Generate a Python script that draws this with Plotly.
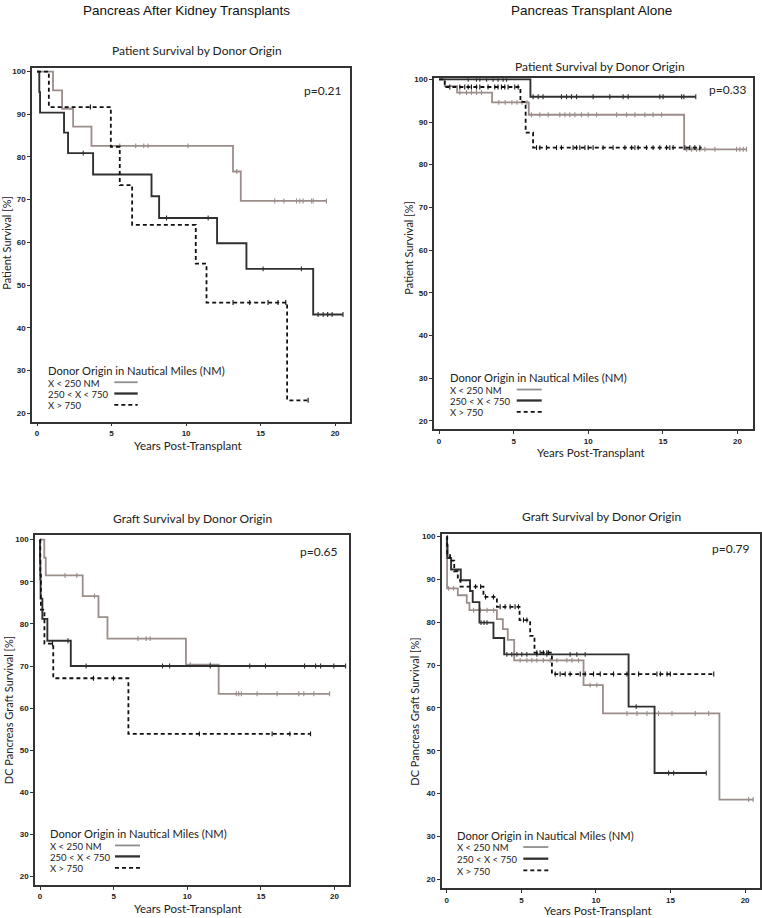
import plotly.graph_objects as go

W, H = 762, 918

# ---------------- data (years, survival %) ----------------
series_names = ["X < 250 NM", "250 < X < 750", "X > 750"]
legend_title = "Donor Origin in Nautical Miles (NM)"
x_ticks = [0, 5, 10, 15, 20]
y_ticks = [20, 30, 40, 50, 60, 70, 80, 90, 100]

# Panel 1: Pancreas After Kidney - patient survival
p1_gray_t = [1.07, 1.68, 2.42, 3.65, 13.15, 13.67]
p1_gray_s = [95.6, 91.3, 87.1, 82.6, 76.6, 69.7]
p1_gray_end = 19.42
p1_gray_c = [5.55, 6.62, 7.16, 7.45, 10.13, 13.4, 15.95, 16.56, 17.41, 17.63, 17.85, 18.42, 18.53, 19.42]
p1_black_t = [0.15, 0.2, 1.81, 2.08, 3.76, 7.68, 8.19, 12.08, 14.05, 18.53]
p1_black_s = [95.2, 90.4, 85.7, 80.9, 75.9, 70.8, 65.7, 59.8, 53.8, 43.1]
p1_black_end = 20.53
p1_black_c = [3.1, 8.69, 11.48, 15.17, 17.74, 18.86, 19.2, 19.5, 19.8, 20.53]
p1_dash_t = [0.79, 4.95, 5.55, 6.38, 10.65, 11.37, 16.78]
p1_dash_s = [91.7, 82.4, 73.4, 64.1, 55.0, 45.9, 23.0]
p1_dash_end = 18.19
p1_dash_c = [3.58, 13.15, 14.27, 15.5, 16.17, 16.69, 18.19]

# Panel 2: Pancreas Transplant Alone - patient survival
p2_gray_t = [0.38, 1.21, 3.55, 6.01, 16.42]
p2_gray_s = [98.4, 96.9, 94.6, 91.7, 83.6]
p2_gray_end = 20.6
p2_gray_c = [1.39, 1.84, 2.17, 2.5, 2.84, 4.0, 4.43, 4.88, 5.22, 5.55, 5.89,
             6.19, 6.75, 7.31, 8.09, 8.43, 8.76, 9.1, 9.54, 9.99, 10.55, 11.89, 12.56, 13.12, 13.79, 14.34, 14.91,
             16.58, 16.92, 17.25, 17.47, 17.81, 18.48, 19.93, 20.15, 20.38, 20.6]
p2_black_t = [6.12]
p2_black_s = [95.9]
p2_black_end = 17.2
p2_black_c = [1.95, 2.5, 2.73, 3.18, 3.62, 3.95, 4.29, 4.52,
              6.3, 6.64, 6.97, 8.2, 8.54, 8.87, 9.21, 10.32, 11.44, 12.33, 12.67, 14.79, 15.01, 16.25, 16.4, 17.2]
p2_dash_t = [0.38, 5.45, 5.8, 6.3]
p2_dash_s = [98.2, 94.7, 87.5, 84.0]
p2_dash_end = 17.59
p2_dash_c = [0.72, 1.39, 1.72, 1.95, 2.17, 2.51, 2.73, 3.28, 3.73, 3.95, 4.18, 4.4, 4.62, 5.07, 5.3,
             6.53, 6.75, 7.2, 7.87, 8.2, 8.98, 9.21, 9.43, 9.77, 9.99, 10.32, 10.99, 11.66, 12.45, 12.9,
             13.12, 13.34, 13.9, 14.34, 14.79, 15.24, 15.46, 15.68, 16.47, 16.8, 17.14, 17.47]

# Panel 3: Pancreas After Kidney - graft survival
p3_gray_t = [0.29, 0.39, 2.9, 3.97, 4.58, 9.91, 12.13]
p3_gray_s = [95.7, 91.5, 86.6, 81.6, 76.5, 70.3, 63.4]
p3_gray_end = 19.66
p3_gray_c = [1.7, 2.5, 3.7, 6.65, 7.21, 7.48, 10.2, 11.56, 13.33, 13.49, 13.67, 14.74, 16.1, 17.57, 17.91, 18.59, 19.66]
p3_black_t = [0.0, 0.02, 0.04, 0.16, 0.5, 2.09]
p3_black_s = [95.2, 90.5, 86.0, 81.2, 76.0, 70.0]
p3_black_end = 20.75
p3_black_c = [1.9, 3.13, 8.32, 8.8, 11.56, 14.24, 15.31, 17.96, 18.71, 19.05, 19.95, 20.75]
p3_dash_t = [0.02, 0.06, 0.3, 0.9, 6.0]
p3_dash_s = [91.7, 83.4, 75.3, 67.1, 53.9]
p3_dash_end = 18.37
p3_dash_c = [0.85, 3.63, 4.99, 10.82, 15.76, 16.96, 18.37]

# Panel 4: Pancreas Transplant Alone - graft survival
p4_gray_t = [0.0, 0.02, 0.74, 1.34, 1.52, 3.36, 3.76, 4.09, 4.52, 9.17, 10.47, 18.28]
p4_gray_s = [95.0, 87.9, 86.3, 84.5, 82.8, 80.7, 78.4, 75.9, 71.1, 65.3, 58.7, 38.6]
p4_gray_end = 20.54
p4_gray_c = [0.12, 0.46, 1.8, 2.25, 2.7, 3.14, 4.92, 5.37, 5.7, 6.04, 6.48, 6.93, 7.38, 8.05, 8.39, 8.83,
             9.61, 10.06, 12.08, 12.75, 13.42, 14.2, 15.1, 16.66, 17.56, 20.24, 20.54]
p4_black_t = [0.02, 0.05, 0.29, 0.94, 1.56, 1.74, 2.19, 3.13, 3.85, 12.19, 13.93]
p4_black_s = [98.0, 95.0, 92.3, 89.8, 87.3, 84.7, 79.9, 76.3, 72.5, 60.3, 44.8]
p4_black_end = 17.4
p4_black_c = [2.3, 2.5, 2.7, 4.03, 4.36, 4.7, 5.03, 5.37, 6.04, 6.71, 8.27, 8.72, 9.28, 12.7, 14.87, 15.21, 17.4]
p4_dash_t = [0.03, 0.22, 0.5, 0.74, 0.92, 2.46, 3.36, 4.88, 5.59, 5.88, 7.05]
p4_dash_s = [96.0, 94.4, 91.9, 89.8, 88.3, 85.9, 83.6, 80.5, 76.8, 72.9, 67.9]
p4_dash_end = 17.9
p4_dash_c = [1.93, 2.27, 2.6, 3.13, 3.58, 3.91, 4.25, 4.58, 4.81, 5.14, 5.37, 6.04, 6.26, 6.48, 6.71, 6.82,
             7.27, 7.6, 7.94, 8.27, 8.95, 9.28, 9.84, 10.29, 11.18, 12.08, 12.86, 14.09, 14.32, 14.77, 14.99, 17.9]

panels = [
    dict(series=[(p1_gray_t, p1_gray_s, p1_gray_end, p1_gray_c),
                 (p1_black_t, p1_black_s, p1_black_end, p1_black_c),
                 (p1_dash_t, p1_dash_s, p1_dash_end, p1_dash_c)],
         title="Patient Survival by Donor Origin", p="p=0.21", ytitle="Patient Survival [%]"),
    dict(series=[(p2_gray_t, p2_gray_s, p2_gray_end, p2_gray_c),
                 (p2_black_t, p2_black_s, p2_black_end, p2_black_c),
                 (p2_dash_t, p2_dash_s, p2_dash_end, p2_dash_c)],
         title="Patient Survival by Donor Origin", p="p=0.33", ytitle="Patient Survival [%]"),
    dict(series=[(p3_gray_t, p3_gray_s, p3_gray_end, p3_gray_c),
                 (p3_black_t, p3_black_s, p3_black_end, p3_black_c),
                 (p3_dash_t, p3_dash_s, p3_dash_end, p3_dash_c)],
         title="Graft Survival by Donor Origin", p="p=0.65", ytitle="DC Pancreas Graft Survival [%]"),
    dict(series=[(p4_gray_t, p4_gray_s, p4_gray_end, p4_gray_c),
                 (p4_black_t, p4_black_s, p4_black_end, p4_black_c),
                 (p4_dash_t, p4_dash_s, p4_dash_end, p4_dash_c)],
         title="Graft Survival by Donor Origin", p="p=0.79", ytitle="DC Pancreas Graft Survival [%]"),
]
column_titles = ["Pancreas After Kidney Transplants", "Pancreas Transplant Alone"]

# ---------------- layout geometry (pixels) ----------------
boxes = [
    dict(l=32, t=65, r=350, b=420, yr=[18.0, 100.9]),
    dict(l=434, t=75.5, r=752.5, b=427.7, yr=[18.0, 100.25]),
    dict(l=35, t=533.3, r=349.3, b=885, yr=[18.0, 101.2]),
    dict(l=441.7, t=532.3, r=760, b=888.3, yr=[17.85, 100.7]),
]
XR = [-0.34, 21.0]
title_pos = [(196.7, 47.7), (599.7, 63.3), (192.8, 516.7), (601.7, 515)]
p_pos = [(342, 87.3), (747, 86.7), (337.5, 550.7), (749.5, 547.7)]
ytitle_pos = [(6.5, 241), (408.5, 246), (8.5, 710), (415, 711)]
xtitle_pos = [(188, 444), (591, 450.7), (188.3, 908.3), (597.5, 910.7)]
leg_pos = [  # title x, title y, entry ys, line x0, x1
    (47.7, 369.3, [381, 392.3, 403.7], 114.3, 137.7),
    (450, 376.7, [388.3, 399.3, 410.7], 516.7, 541.7),
    (50, 834.3, [845.7, 856.7, 868.3], 115, 140),
    (457.3, 836, [847.3, 859, 870.7], 523.3, 548.3),
]
col_title_pos = [(186, 8), (591, 8)]

colors = ["#9a8d8a", "#303030", "#111111"]
dashes = ["solid", "solid", "4px,3px"]
widths = [1.8, 1.9, 1.8]

def px(x):
    return x / W

def py(y):
    return 1 - y / H

TXT = "Lato, 'Open Sans', sans-serif"
TICKF = dict(family="Liberation Sans, Arial, sans-serif", size=8, color="#222", weight="bold")

fig = go.Figure()

def surv_at(times, surv, c):
    v = 100.0
    for t, s in zip(times, surv):
        if t <= c:
            v = s
    return v

annotations = []
shapes = []

def note(x, y, text, size, anchor="center", angle=0, family=TXT, color="#222"):
    annotations.append(dict(x=px(x), y=py(y), text=text, showarrow=False, textangle=angle,
                            xref="paper", yref="paper", xanchor=anchor, yanchor="middle",
                            borderpad=0, font=dict(family=family, size=size, color=color)))

for i, (pan, box) in enumerate(zip(panels, boxes)):
    k = "" if i == 0 else str(i + 1)
    xa, ya = "x" + k, "y" + k
    for j, (t, s, end, cens) in enumerate(pan["series"]):
        xs = [0.0] + list(t) + [end]
        ys = [100.0] + list(s) + [s[-1]]
        fig.add_trace(go.Scatter(x=xs, y=ys, mode="lines", line_shape="hv",
                                 line=dict(color=colors[j], width=widths[j], dash=dashes[j]),
                                 xaxis=xa, yaxis=ya, showlegend=False, hoverinfo="skip"))
        cy = [surv_at(t, s, c) for c in cens]
        fig.add_trace(go.Scatter(x=cens, y=cy, mode="markers",
                                 marker=dict(symbol="line-ns", size=3.5,
                                             line=dict(color=colors[j], width=1.1)),
                                 xaxis=xa, yaxis=ya, showlegend=False, hoverinfo="skip"))
    axis_common = dict(showline=True, linecolor="#333", linewidth=1.5, mirror=True,
                       ticks="outside", ticklen=3, tickcolor="#333", tickwidth=1,
                       tickfont=TICKF, showgrid=False, zeroline=False)
    fig.layout["xaxis" + k] = dict(domain=[px(box["l"]), px(box["r"])], range=XR,
                                   tickvals=x_ticks, anchor=ya, **axis_common)
    fig.layout["yaxis" + k] = dict(domain=[py(box["b"]), py(box["t"])], range=box["yr"],
                                   tickvals=y_ticks, anchor=xa, **axis_common)
    note(title_pos[i][0], title_pos[i][1], pan["title"], 12)
    note(p_pos[i][0], p_pos[i][1], pan["p"], 12, anchor="right")
    note(ytitle_pos[i][0], ytitle_pos[i][1], pan["ytitle"], 11, angle=-90)
    note(xtitle_pos[i][0], xtitle_pos[i][1], "Years Post-Transplant", 11.5)
    lx, lty, lys, lx0, lx1 = leg_pos[i]
    note(lx - 1, lty - 0.8, legend_title, 11.2, anchor="left")
    for j, name in enumerate(series_names):
        note(lx - 1, lys[j] + 0.3, name, 9.5, anchor="left")
        shapes.append(dict(type="line", xref="paper", yref="paper",
                           x0=px(lx0), x1=px(lx1), y0=py(lys[j] - 0.5), y1=py(lys[j] - 0.5),
                           line=dict(color=colors[j] if j else "#8e8e8e",
                                     width=widths[j] + (0.4 if j == 1 else 0), dash=dashes[j])))

for i, t in enumerate(column_titles):
    note(col_title_pos[i][0], col_title_pos[i][1], t, 13.5,
         family="Liberation Sans, Arial, sans-serif", color="#111")

fig.update_layout(width=W, height=H, margin=dict(l=0, r=0, t=0, b=0),
                  paper_bgcolor="white", plot_bgcolor="white",
                  annotations=annotations, shapes=shapes, showlegend=False)

fig.write_html("out.html")
